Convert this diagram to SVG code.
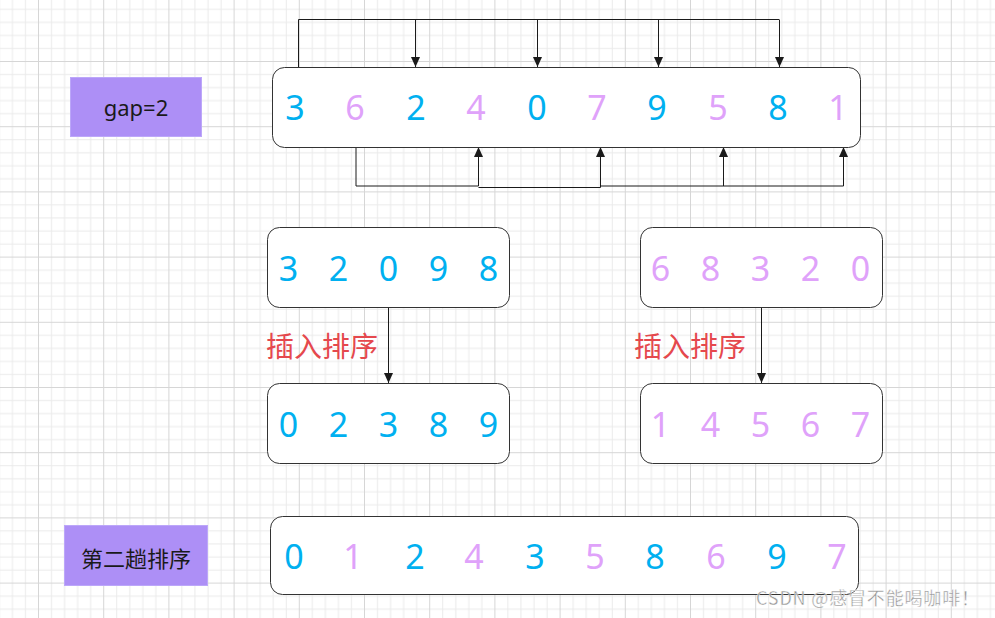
<svg xmlns="http://www.w3.org/2000/svg" width="995" height="618" viewBox="0 0 995 618">
<defs>
<pattern id="grid" patternUnits="userSpaceOnUse" x="38" y="61" width="65.2" height="65.2">
<rect x="13.04" y="0" width="1" height="65.2" fill="#eaeaea"/>
<rect x="26.08" y="0" width="1" height="65.2" fill="#eaeaea"/>
<rect x="39.12" y="0" width="1" height="65.2" fill="#eaeaea"/>
<rect x="52.16" y="0" width="1" height="65.2" fill="#eaeaea"/>
<rect x="0" y="13.04" width="65.2" height="1" fill="#eaeaea"/>
<rect x="0" y="26.08" width="65.2" height="1" fill="#eaeaea"/>
<rect x="0" y="39.12" width="65.2" height="1" fill="#eaeaea"/>
<rect x="0" y="52.16" width="65.2" height="1" fill="#eaeaea"/>
<rect x="0" y="0" width="1" height="65.2" fill="#d6d6d6"/>
<rect x="0" y="0" width="65.2" height="1" fill="#d6d6d6"/>
</pattern>
<marker id="arr" markerUnits="userSpaceOnUse" markerWidth="10" markerHeight="10" viewBox="0 0 10 10" refX="10" refY="5" orient="auto">
<path d="M0,0.5 L10,5 L0,9.5 Z" fill="#1a1a1a"/>
</marker>
</defs>
<style>
.box{fill:#ffffff;stroke:#333333;stroke-width:1}
.tag{fill:#ad8ff6;stroke:#bca7f9;stroke-width:1}
.d{font-family:"Noto Sans","Open Sans",sans-serif;font-size:34px;text-anchor:middle}
.b{fill:#00b0f0}
.p{fill:#dfa2fa}
.lab{font-family:"Noto Sans CJK SC","Noto Sans",sans-serif;font-size:28px;fill:#e5484d}
.tt{font-family:"Noto Sans","Noto Sans CJK SC",sans-serif;fill:#1a1a1a;text-anchor:middle}
.c{fill:none;stroke:#1a1a1a;stroke-width:1}
</style>
<rect width="995" height="618" fill="#ffffff"/>
<rect width="995" height="618" fill="url(#grid)"/>

<g id="connectors">
<path class="c" d="M298.5,67 V19.5 H779"/>
<path class="c" d="M415.5,19.5 V67" marker-end="url(#arr)"/>
<path class="c" d="M537.5,19.5 V67" marker-end="url(#arr)"/>
<path class="c" d="M658.5,19.5 V67" marker-end="url(#arr)"/>
<path class="c" d="M779.5,19.5 V67" marker-end="url(#arr)"/>
<path class="c" d="M356,147 V186 H478.5 V147" marker-end="url(#arr)"/>
<path class="c" d="M478.5,187.5 H600.5 V147" marker-end="url(#arr)"/>
<path class="c" d="M600.5,186 H843.5 V147" marker-end="url(#arr)"/>
<path class="c" d="M723.5,186 V147" marker-end="url(#arr)"/>
<path class="c" d="M388.5,307 V383" marker-end="url(#arr)"/>
<path class="c" d="M761.5,307 V383" marker-end="url(#arr)"/>
</g>

<g id="gap-label">
<rect class="tag" x="70.5" y="77.5" width="131" height="59"/>
<text class="tt" x="136" y="116" font-size="22">gap=2</text>
</g>

<g id="array-original">
<rect class="box" x="272.5" y="67.5" width="588" height="80" rx="12"/>
<text class="d b" x="295" y="120">3</text>
<text class="d p" x="355" y="120">6</text>
<text class="d b" x="416" y="120">2</text>
<text class="d p" x="476" y="120">4</text>
<text class="d b" x="537" y="120">0</text>
<text class="d p" x="597" y="120">7</text>
<text class="d b" x="657" y="120">9</text>
<text class="d p" x="718" y="120">5</text>
<text class="d b" x="778" y="120">8</text>
<text class="d p" x="838" y="120">1</text>
</g>

<g id="group-a">
<rect class="box" x="267.5" y="227.5" width="242" height="80" rx="12"/>
<text class="d b" x="288.5" y="281">3</text>
<text class="d b" x="338.5" y="281">2</text>
<text class="d b" x="388.5" y="281">0</text>
<text class="d b" x="438.5" y="281">9</text>
<text class="d b" x="488.5" y="281">8</text>
</g>

<g id="group-a-sorted">
<rect class="box" x="267.5" y="383.5" width="242" height="80" rx="12"/>
<text class="d b" x="288.5" y="437">0</text>
<text class="d b" x="338.5" y="437">2</text>
<text class="d b" x="388.5" y="437">3</text>
<text class="d b" x="438.5" y="437">8</text>
<text class="d b" x="488.5" y="437">9</text>
</g>

<g id="group-b">
<rect class="box" x="640.5" y="227.5" width="242" height="80" rx="12"/>
<text class="d p" x="660.5" y="281">6</text>
<text class="d p" x="710.5" y="281">8</text>
<text class="d p" x="760.5" y="281">3</text>
<text class="d p" x="810.5" y="281">2</text>
<text class="d p" x="860.5" y="281">0</text>
</g>

<g id="group-b-sorted">
<rect class="box" x="640.5" y="383.5" width="242" height="80" rx="12"/>
<text class="d p" x="660.5" y="437">1</text>
<text class="d p" x="710.5" y="437">4</text>
<text class="d p" x="760.5" y="437">5</text>
<text class="d p" x="810.5" y="437">6</text>
<text class="d p" x="860.5" y="437">7</text>
</g>

<g id="label-a">
<text class="lab" x="266" y="357">插入排序</text>
</g>
<g id="label-b">
<text class="lab" x="634" y="357">插入排序</text>
</g>

<g id="pass2-label">
<rect class="tag" x="64.5" y="525.5" width="143" height="60"/>
<text class="tt" x="136" y="567" font-size="22" style="font-family:'Noto Sans CJK SC',sans-serif">第二趟排序</text>
</g>

<g id="array-pass2">
<rect class="box" x="270.5" y="516.5" width="588" height="78" rx="12"/>
<text class="d b" x="294" y="569">0</text>
<text class="d p" x="353" y="569">1</text>
<text class="d b" x="415" y="569">2</text>
<text class="d p" x="474" y="569">4</text>
<text class="d b" x="535" y="569">3</text>
<text class="d p" x="595" y="569">5</text>
<text class="d b" x="655" y="569">8</text>
<text class="d p" x="716" y="569">6</text>
<text class="d b" x="777" y="569">9</text>
<text class="d p" x="837" y="569">7</text>
</g>

<text x="756" y="605" textLength="223" lengthAdjust="spacing" font-family="'Noto Sans CJK SC','Noto Sans',sans-serif" font-size="18" fill="#8a8a8a" stroke="#ffffff" stroke-width="0.4" opacity="0.9">CSDN @感冒不能喝咖啡！</text>
</svg>
